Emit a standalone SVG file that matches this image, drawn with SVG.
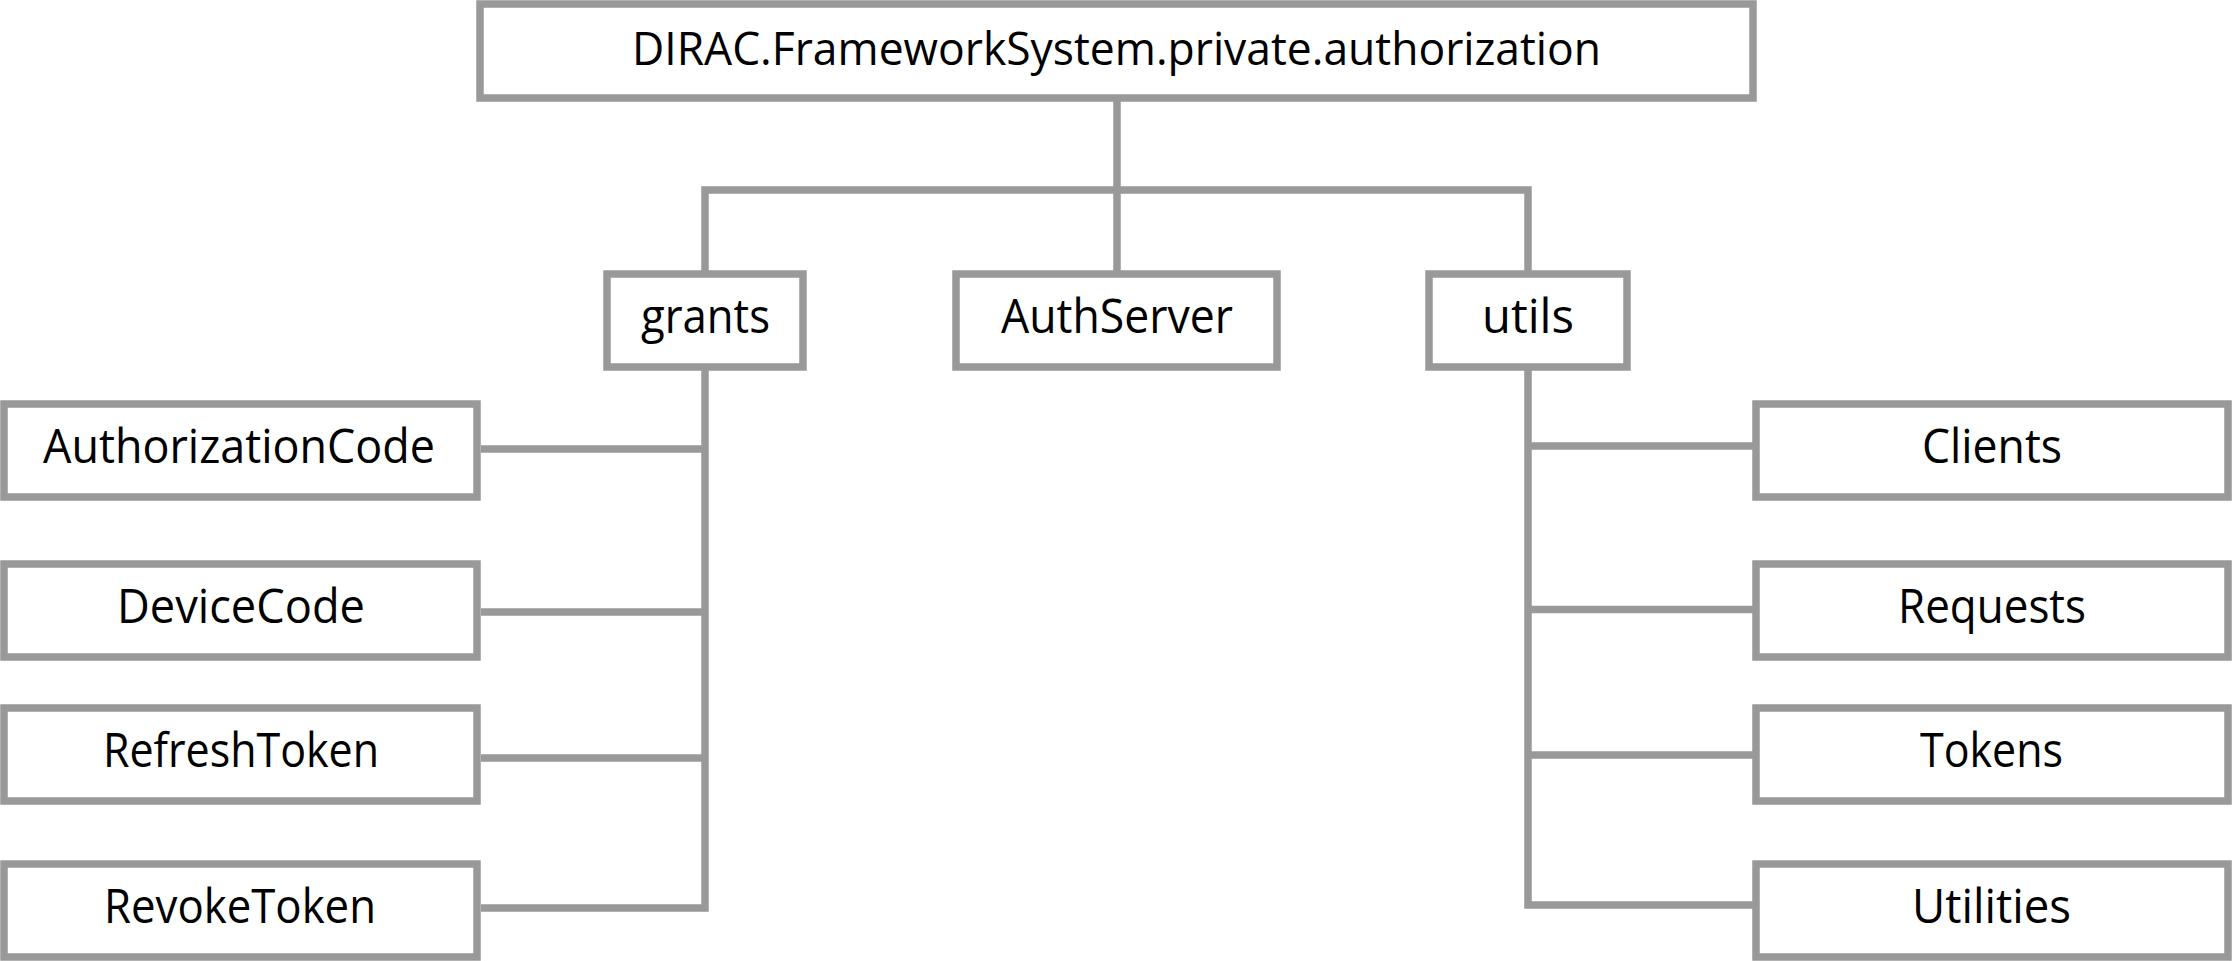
<svg xmlns="http://www.w3.org/2000/svg" width="2233" height="961" viewBox="0 0 2233 961">
<style>
.box{fill:#ffffff;stroke:#999999;stroke-width:7.5}
.lbl{font-family:"Open Sans","Noto Sans","Liberation Sans",sans-serif;font-size:47px;fill:#000000;text-anchor:middle}
.top{font-size:45px}
.conn{fill:none;stroke:#999999;stroke-width:7.5;stroke-linejoin:miter;stroke-linecap:butt}
</style>
<rect width="2233" height="961" fill="#ffffff"/>
<g id="connectors">
<path class="conn" d="M1117,98 V274"/>
<path class="conn" d="M705,274 V190 H1528 V274"/>
<path class="conn" d="M705,367 V908 H481"/>
<path class="conn" d="M705,449 H481"/>
<path class="conn" d="M705,612 H481"/>
<path class="conn" d="M705,758 H481"/>
<path class="conn" d="M1528,367 V905 H1756"/>
<path class="conn" d="M1528,446 H1756"/>
<path class="conn" d="M1528,609.5 H1756"/>
<path class="conn" d="M1528,755 H1756"/>
</g>
<g id="node-root">
<rect class="box" x="480" y="4" width="1273" height="94"/>
<text class="lbl top" x="1116.5" y="65" textLength="969" lengthAdjust="spacingAndGlyphs">DIRAC.FrameworkSystem.private.authorization</text>
</g>
<g id="node-grants">
<rect class="box" x="607" y="274" width="196" height="93"/>
<text class="lbl" x="705.5" y="333" textLength="129" lengthAdjust="spacingAndGlyphs">grants</text>
</g>
<g id="node-authserver">
<rect class="box" x="956" y="274" width="321" height="93"/>
<text class="lbl" x="1117" y="333" textLength="232" lengthAdjust="spacingAndGlyphs">AuthServer</text>
</g>
<g id="node-utils">
<rect class="box" x="1429" y="274" width="198" height="93"/>
<text class="lbl" x="1528" y="333" textLength="92" lengthAdjust="spacingAndGlyphs">utils</text>
</g>
<g id="node-authorizationcode">
<rect class="box" x="4" y="404" width="473" height="93"/>
<text class="lbl" x="239" y="463" textLength="392" lengthAdjust="spacingAndGlyphs">AuthorizationCode</text>
</g>
<g id="node-devicecode">
<rect class="box" x="4" y="564" width="473" height="93"/>
<text class="lbl" x="241" y="623" textLength="248" lengthAdjust="spacingAndGlyphs">DeviceCode</text>
</g>
<g id="node-refreshtoken">
<rect class="box" x="4" y="708" width="473" height="93"/>
<text class="lbl" x="241" y="767" textLength="276" lengthAdjust="spacingAndGlyphs">RefreshToken</text>
</g>
<g id="node-revoketoken">
<rect class="box" x="4" y="864" width="473" height="93"/>
<text class="lbl" x="240" y="923" textLength="272" lengthAdjust="spacingAndGlyphs">RevokeToken</text>
</g>
<g id="node-clients">
<rect class="box" x="1756" y="404" width="472" height="93"/>
<text class="lbl" x="1992" y="463" textLength="140" lengthAdjust="spacingAndGlyphs">Clients</text>
</g>
<g id="node-requests">
<rect class="box" x="1756" y="564" width="472" height="93"/>
<text class="lbl" x="1992" y="623" textLength="188" lengthAdjust="spacingAndGlyphs">Requests</text>
</g>
<g id="node-tokens">
<rect class="box" x="1756" y="708" width="472" height="93"/>
<text class="lbl" x="1991.5" y="767" textLength="143" lengthAdjust="spacingAndGlyphs">Tokens</text>
</g>
<g id="node-utilities">
<rect class="box" x="1756" y="864" width="472" height="93"/>
<text class="lbl" x="1991.5" y="923" textLength="159" lengthAdjust="spacingAndGlyphs">Utilities</text>
</g>
</svg>
